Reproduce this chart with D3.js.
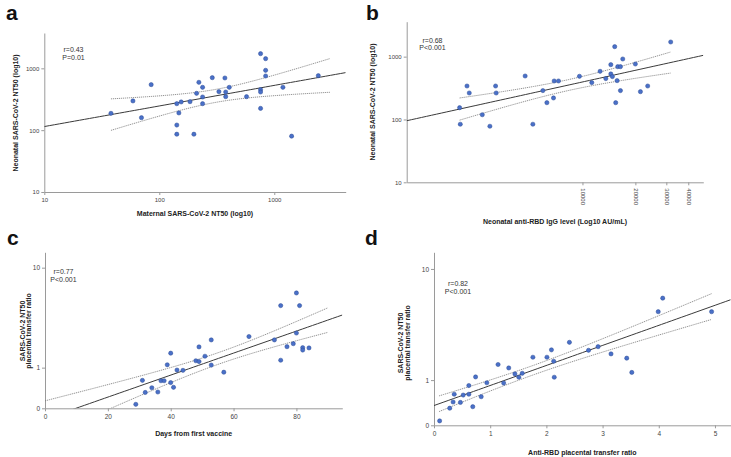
<!DOCTYPE html>
<html>
<head>
<meta charset="utf-8">
<script src="https://cdn.jsdelivr.net/npm/d3@7"></script>
<style>
  body { margin: 0; background: #fff; }
  svg { display: block; font-family: Arial, "Liberation Sans", sans-serif; }
  .axis path, .axis line { stroke: #9a9a9a; stroke-width: 1; }
  .axis text { fill: #444; font-size: 6px; }
  .panel-c .axis text, .panel-d .axis text { font-size: 6.5px; }
  .axisTitle { font-weight: bold; font-size: 7px; fill: #222; }
  .panelLabel { font-weight: bold; font-size: 21px; fill: #111; }
  .stats { font-size: 7px; fill: #333; }
</style>
</head>
<body>
<svg id="chart" width="731" height="457"></svg>
<script>
// panel a: maternal vs neonatal NT50
const maternalNT50 = [38, 59, 70, 85, 142, 142, 142, 148, 155, 185, 200, 211, 221, 238, 238, 238,
  289, 330, 372, 378, 378, 406, 574, 760, 760, 760, 760, 841, 841, 841, 1189, 1415, 2415]
const neonatalNT50A = [187, 297, 159, 545, 268, 121, 86, 190, 286, 289, 86, 394, 594, 493, 344, 268,
  706, 420, 698, 414, 348, 493, 348, 1726, 452, 414, 225, 1433, 929, 752, 493, 80, 760]

// panel b: neonatal anti-RBD IgG vs neonatal NT50
const neonatalIgG = [2000, 2018, 2203, 2270, 2692, 2974, 3204, 3230, 4720, 5222, 5955, 6275, 6843, 6905,
  7307, 9615, 11300, 12600, 13580, 14500, 14500, 14800, 15260, 15460, 15740, 15880, 16450, 16450,
  16950, 20000, 21370, 23500, 31770]
const neonatalNT50B = [154, 84, 341, 264, 119, 78, 341, 264, 492, 84, 288, 185, 220, 410,
  410, 487, 386, 584, 447, 746, 530, 481, 1442, 185, 415, 693, 693, 288,
  918, 764, 277, 341, 1711]

// panel c: days from first vaccine vs NT50 transfer ratio
const daysFromVaccine = [28.9, 31, 31.9, 34, 35.9, 36.9, 37.9, 38.9, 40, 40, 40.9, 42, 43.9, 48, 49, 49,
  50.9, 52.9, 52.9, 56.9, 64.9, 73, 75, 75, 77, 79, 80, 80, 81, 82, 82, 84]
const nt50RatioC = [0.07, 0.61, 0.31, 0.42, 0.32, 0.6, 0.6, 1.1, 1.56, 0.55, 0.43, 0.92, 0.91, 1.25, 1.22, 1.85,
  1.43, 2.21, 1.09, 0.85, 2.4, 2.21, 4.76, 1.27, 1.86, 2.01, 6.15, 2.61, 4.76, 1.81, 1.7, 1.8]

// panel d: anti-RBD transfer ratio vs NT50 transfer ratio
const rbdRatio = [0.1, 0.28, 0.34, 0.36, 0.47, 0.52, 0.62, 0.62, 0.69, 0.74, 0.84, 0.94, 1.14, 1.24, 1.33,
  1.44, 1.51, 1.57, 1.76, 2.01, 2.09, 2.13, 2.14, 2.41, 2.75, 2.92, 3.15, 3.43, 3.52, 3.99, 4.07, 4.94]
const nt50RatioD = [0.07, 0.3, 0.43, 0.61, 0.42, 0.59, 0.61, 0.84, 0.33, 1.1, 0.55, 0.92, 1.54, 0.91, 1.41,
  1.2, 1.09, 1.22, 1.84, 1.84, 2.18, 1.67, 1.09, 2.57, 2.16, 2.34, 1.99, 1.8, 1.25, 4.71, 6.03, 4.71]

// ticks
const logTicks = [10, 100, 1000]
const igGTicks = [10000, 20000, 30000, 40000]
const daysTicks = [0, 20, 40, 60, 80]
const rbdTicks = [0, 1, 2, 3, 4, 5]
const ratioTicks = [0, 1, 10]

// extent of the confidence bands (x units)
const ciRangeA = [38, 3050]
const ciRangeB = [2000, 31770]
const ciRangeC = [0, 90]
const ciRangeD = [0.09, 4.94]

const statsA = ['r=0.43', 'P=0.01']
const statsB = ['r=0.68', 'P<0.001']
const statsC = ['r=0.77', 'P<0.001']
const statsD = ['r=0.82', 'P<0.001']

const log = { fwd: Math.log10, inv: v => Math.pow(10, v) }
const lin = { fwd: v => v, inv: v => v }
const log1 = { fwd: v => Math.log10(1 + v), inv: v => Math.pow(10, v) - 1 }

const panels = [
  {
    id: 'a', xs: maternalNT50, ys: neonatalNT50A, tx: log, ty: log,
    x: d3.scaleLog().domain([10, 4180]).range([44.3, 345.7]),
    y: d3.scaleLog().domain([10, 3727]).range([192, 33]),
    xTicks: logTicks, yTicks: logTicks, ci: ciRangeA, stats: statsA,
    statsPos: [73.5, 52], label: [6, 20],
    xTitle: 'Maternal SARS-CoV-2 NT50 (log10)', xTitleY: 216,
    yTitle: ['Neonatal SARS-CoV-2 NT50 (log10)'], yTitleX: [17.5], yTitleY: 113
  },
  {
    id: 'b', xs: neonatalIgG, ys: neonatalNT50B, tx: log, ty: log,
    x: d3.scaleLog().domain([1000, 48700]).range([406.7, 703.3]),
    y: d3.scaleLog().domain([10, 3600]).range([182.3, 21.7]),
    xTicks: igGTicks, yTicks: logTicks, ci: ciRangeB, stats: statsB, rotateX: true,
    statsPos: [432.5, 42.5], label: [366, 20],
    xTitle: 'Neonatal anti-RBD IgG level (Log10 AU/mL)', xTitleY: 223.5,
    yTitle: ['Neonatal SARS-CoV-2 NT50 (log10)'], yTitleX: [375], yTitleY: 102
  },
  {
    id: 'c', xs: daysFromVaccine, ys: nt50RatioC, tx: lin, ty: log1,
    x: d3.scaleLinear().domain([0, 94.6]).range([45, 342.3]),
    y: d3.scaleSymlog().constant(1).domain([0, 13.3]).range([408.3, 252.3]),
    xTicks: daysTicks, yTicks: ratioTicks, ci: ciRangeC, stats: statsC,
    statsPos: [63.5, 274], label: [7, 245],
    xTitle: 'Days from first vaccine', xTitleY: 436,
    yTitle: ['SARS-CoV-2 NT50', 'placental transfer ratio'], yTitleX: [24.5, 30.5], yTitleY: 331
  },
  {
    id: 'd', xs: rbdRatio, ys: nt50RatioD, tx: lin, ty: log1,
    x: d3.scaleLinear().domain([0, 5.28]).range([434, 730.7]),
    y: d3.scaleSymlog().constant(1).domain([0, 13.2]).range([425.3, 252.3]),
    xTicks: rbdTicks, yTicks: ratioTicks, ci: ciRangeD, stats: statsD,
    statsPos: [458, 286], label: [365, 245],
    xTitle: 'Anti-RBD placental transfer ratio', xTitleY: 455,
    yTitle: ['SARS-CoV-2 NT50', 'placental transfer ratio'], yTitleX: [403, 409.5], yTitleY: 343
  }
]

// ordinary least squares in the transformed (plotted) space, with 95% CI of the mean
const regression = (xs, ys, tx, ty) => {
  const X = xs.map(tx.fwd)
  const Y = ys.map(ty.fwd)
  const n = X.length
  const mx = d3.mean(X)
  const my = d3.mean(Y)
  const sxx = d3.sum(X, v => (v - mx) ** 2)
  const sxy = d3.sum(X, (v, i) => (v - mx) * (Y[i] - my))
  const b = sxy / sxx
  const a = my - b * mx
  const sse = d3.sum(X, (v, i) => (Y[i] - a - b * v) ** 2)
  const s = Math.sqrt(sse / (n - 2))
  const t = 2.04
  const fit = v => a + b * v
  const half = v => t * s * Math.sqrt(1 / n + (v - mx) ** 2 / sxx)
  return { fit, half }
}

const svg = d3.select('#chart')

panels.forEach(p => {
  const g = svg.append('g').attr('class', 'panel-' + p.id)
  const [x0, x1] = p.x.range()
  const [yb, yt] = p.y.range()

  g.append('clipPath').attr('id', 'clip-' + p.id)
    .append('rect')
    .attr('x', x0).attr('y', yt)
    .attr('width', x1 - x0).attr('height', yb - yt)

  // axes
  const xAxis = g.append('g').attr('class', 'axis')
    .attr('transform', `translate(0,${yb})`)
    .call(d3.axisBottom(p.x).tickValues(p.xTicks).tickSize(3).tickSizeOuter(0).tickFormat(d3.format('d')))
  const yAxis = g.append('g').attr('class', 'axis')
    .attr('transform', `translate(${x0},0)`)
    .call(d3.axisLeft(p.y).tickValues(p.yTicks).tickSize(3).tickSizeOuter(0).tickFormat(d3.format('d')))
  yAxis.selectAll('text').attr('x', -5)
  xAxis.selectAll('text').attr('y', 6)

  if (p.rotateX) {
    xAxis.selectAll('text')
      .attr('transform', 'rotate(90)')
      .attr('text-anchor', 'start')
      .attr('x', 6).attr('y', 0).attr('dy', '0.32em')
  }

  // regression line and confidence band
  const reg = regression(p.xs, p.ys, p.tx, p.ty)
  const plot = g.append('g').attr('clip-path', `url(#clip-${p.id})`)

  const sampleX = ([lo, hi]) => {
    const a = p.tx.fwd(lo)
    const b = p.tx.fwd(hi)
    return d3.range(0, 61).map(i => a + (b - a) * i / 60)
  }
  const line = d3.line()

  // below zero on the log(1+y) panels, keep the line straight so the clip cuts it at the axis
  const yAt = tv => {
    const val = p.ty.inv(tv)
    if (p.ty === log1 && val < 0) return p.y(0) + (p.y(0) - p.y(p.ty.inv(0.1))) * (-tv / 0.1)
    return p.y(val)
  }

  plot.append('path')
    .attr('d', line(sampleX(p.x.domain()).map(v => [p.x(p.tx.inv(v)), yAt(reg.fit(v))])))
    .attr('fill', 'none')
    .attr('stroke', '#3a3a3a')
    .attr('stroke-width', 1)

  ;[1, -1].forEach(sign => {
    plot.append('path')
      .attr('d', line(sampleX(p.ci).map(v => [p.x(p.tx.inv(v)), yAt(reg.fit(v) + sign * reg.half(v))])))
      .attr('fill', 'none')
      .attr('stroke', '#777')
      .attr('stroke-width', 0.8)
      .attr('stroke-dasharray', '1.2,0.8')
  })

  // points
  g.append('g').selectAll('circle')
    .data(p.xs.map((v, i) => [v, p.ys[i]]))
    .enter().append('circle')
    .attr('cx', d => p.x(d[0]))
    .attr('cy', d => p.y(d[1]))
    .attr('r', 2.1)
    .attr('fill', '#4a70c8')
    .attr('stroke', '#2b4a94')
    .attr('stroke-width', 0.5)

  // stats text
  g.append('text').attr('class', 'stats')
    .attr('text-anchor', 'middle')
    .selectAll('tspan')
    .data(p.stats)
    .enter().append('tspan')
    .attr('x', p.statsPos[0])
    .attr('y', (d, i) => p.statsPos[1] + i * 7.5)
    .text(d => d)

  // titles
  g.append('text').attr('class', 'axisTitle')
    .attr('x', (x0 + x1) / 2).attr('y', p.xTitleY)
    .attr('text-anchor', 'middle')
    .text(p.xTitle)

  p.yTitle.forEach((t, i) => {
    g.append('text').attr('class', 'axisTitle')
      .attr('transform', `translate(${p.yTitleX[i]},${p.yTitleY}) rotate(-90)`)
      .attr('text-anchor', 'middle')
      .text(t)
  })

  g.append('text').attr('class', 'panelLabel')
    .attr('x', p.label[0]).attr('y', p.label[1])
    .text(p.id)
})
</script>
</body>
</html>
